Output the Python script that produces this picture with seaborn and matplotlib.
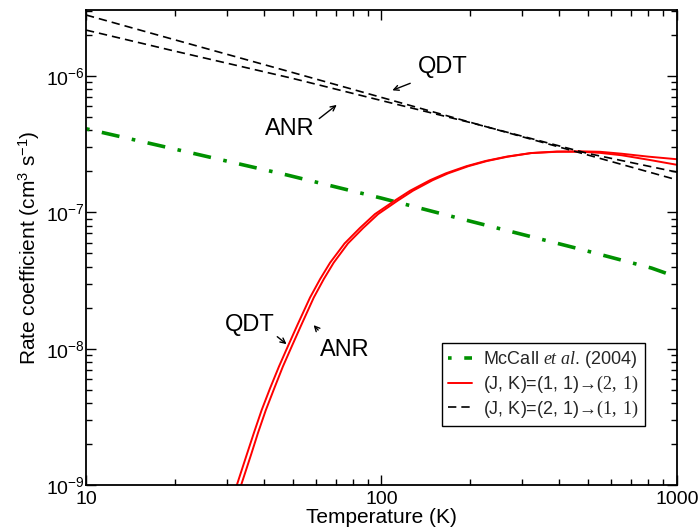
import matplotlib
matplotlib.use("Agg")
import matplotlib.pyplot as plt
import seaborn as sns
from matplotlib.ticker import FuncFormatter, NullFormatter

# McCall et al. (2004) fit
temp_mccall = [10, 22.5, 47.8, 100, 200, 470, 820, 1000]
rate_mccall = [4.1e-7, 2.74e-7, 1.88e-7, 1.27e-7, 8.6e-8, 5.37e-8, 3.9e-8, 3.35e-8]

# (J, K)=(1, 1)->(2, 1): QDT (left) and ANR (right) curves
temp_up_qdt = [31, 32.4, 35, 37, 39.3, 42, 45, 48.4, 52, 57.3, 62, 67, 75, 84.5, 95, 111,
               125, 146, 165, 194, 225, 265, 320, 392, 470, 548, 650, 800, 1000]
rate_up_qdt = [7.4e-10, 1.0e-9, 1.67e-9, 2.41e-9, 3.54e-9, 5.14e-9, 7.41e-9, 1.06e-8, 1.50e-8,
               2.37e-8, 3.24e-8, 4.27e-8, 5.91e-8, 7.67e-8, 9.7e-8, 1.22e-7,
               1.44e-7, 1.72e-7, 1.93e-7, 2.18e-7, 2.38e-7, 2.56e-7, 2.72e-7, 2.79e-7,
               2.80e-7, 2.78e-7, 2.69e-7, 2.56e-7, 2.45e-7]
temp_up_anr = [32.0, 33.5, 36.2, 38.2, 40.6, 43.4, 46.4, 49.9, 53.6, 59.0, 63.8, 68.9, 77.0, 86.7,
               97.4, 113.6, 127.8, 149, 168, 197, 228, 268, 322, 393, 470, 548, 650, 800, 1000]
rate_up_anr = [7.4e-10, 1.0e-9, 1.67e-9, 2.41e-9, 3.54e-9, 5.14e-9, 7.41e-9, 1.06e-8, 1.50e-8,
               2.37e-8, 3.24e-8, 4.27e-8, 5.91e-8, 7.67e-8, 9.7e-8, 1.22e-7,
               1.44e-7, 1.72e-7, 1.93e-7, 2.18e-7, 2.38e-7, 2.56e-7, 2.72e-7, 2.78e-7,
               2.78e-7, 2.73e-7, 2.62e-7, 2.43e-7, 2.23e-7]

# (J, K)=(2, 1)->(1, 1): two dashed curves
temp_dn = [10, 20, 50, 100, 200, 500, 1000]
rate_dn_a = [2.8e-6, 1.84e-6, 1.06e-6, 6.96e-7, 4.57e-7, 2.63e-7, 1.73e-7]
rate_dn_b = [2.17e-6, 1.52e-6, 9.6e-7, 6.6e-7, 4.55e-7, 2.70e-7, 1.97e-7]

sns.set_theme(style="ticks")
plt.rcParams["font.family"] = ["Liberation Sans", "DejaVu Sans"]
plt.rcParams["mathtext.fontset"] = "custom"
plt.rcParams["mathtext.rm"] = "Liberation Serif"
plt.rcParams["mathtext.it"] = "Liberation Serif:italic"
plt.rcParams["mathtext.bf"] = "Liberation Serif:bold"

fig, ax = plt.subplots(figsize=(6.99, 5.32), dpi=100)
fig.subplots_adjust(left=0.123, right=0.9685, top=0.981, bottom=0.0883)
ax.set_xscale("log")
ax.set_yscale("log")

sns.lineplot(x=temp_mccall, y=rate_mccall, ax=ax, color="#009100", lw=2.6,
             linestyle=(0, (1, 3.5, 5, 3.5)))
h_green = ax.lines[-1]
sns.lineplot(x=temp_up_qdt, y=rate_up_qdt, ax=ax, color="red", lw=1.4)
h_red = ax.lines[-1]
sns.lineplot(x=temp_up_anr, y=rate_up_anr, ax=ax, color="red", lw=1.4)
sns.lineplot(x=temp_dn, y=rate_dn_a, ax=ax, color="black", lw=1.2, linestyle=(0, (5, 3)))
h_black = ax.lines[-1]
sns.lineplot(x=temp_dn, y=rate_dn_b, ax=ax, color="black", lw=1.2, linestyle=(0, (5, 3)))

ax.set_xlim(10, 1000)
ax.set_ylim(1e-9, 3.04e-6)
ax.xaxis.set_major_formatter(FuncFormatter(lambda v, p: f"{v:g}"))
ax.xaxis.set_minor_formatter(NullFormatter())
ax.tick_params(which="both", direction="in", top=True, right=True, labelsize=14,
               color="black", labelcolor="black")
ax.tick_params(which="major", length=7, width=1)
ax.tick_params(which="minor", length=4, width=1)
ax.tick_params(axis="x", pad=4)
ax.tick_params(axis="y", pad=1)
for s in ax.spines.values():
    s.set_color("black")
    s.set_linewidth(1.3)

ax.set_xlabel("Temperature (K)", fontsize=15, color="black", labelpad=0)
ax.set_ylabel(r"Rate coefficient (cm$^{\mathdefault{3}}$ s$^{\mathdefault{-1}}$)",
              fontsize=15, color="black", labelpad=3)

# curve labels with arrows (axes fraction)
labels = [("QDT", (0.604, 0.880), (0.553, 0.848), (0.514, 0.829)),
          ("ANR", (0.345, 0.749), (0.391, 0.768), (0.428, 0.804)),
          ("QDT", (0.277, 0.337), (0.320, 0.316), (0.343, 0.293)),
          ("ANR", (0.438, 0.284), (0.396, 0.322), (0.382, 0.341))]
for txt, pos, tail, tip in labels:
    ax.text(pos[0], pos[1], txt, transform=ax.transAxes, fontsize=17,
            ha="center", va="center", color="black")
    ax.annotate("", xy=tip, xytext=tail, xycoords="axes fraction",
                textcoords="axes fraction",
                arrowprops=dict(arrowstyle="->", color="black", lw=1.0,
                                mutation_scale=9))

leg = ax.legend(handles=[h_green, h_red, h_black],
                labels=[r"McCall $\it{et\ al}$. (2004)",
                        r"(J, K)=(1, 1)$\mathrm{→(2,\ 1)}$",
                        r"(J, K)=(2, 1)$\mathrm{→(1,\ 1)}$"],
                loc="lower right", bbox_to_anchor=(0.946, 0.124), borderaxespad=0,
                frameon=True, fancybox=False, edgecolor="black", framealpha=1,
                handlelength=1.3, fontsize=13, borderpad=0.35, labelspacing=0.2,
                handletextpad=0.6)
leg.get_frame().set_linewidth(1.0)

fig.savefig("out.png", dpi=100)
